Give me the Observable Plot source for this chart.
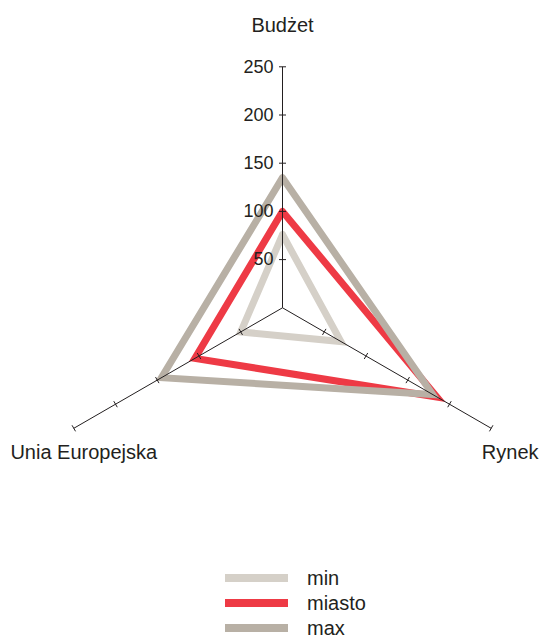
<!DOCTYPE html>
<html>
<head>
<meta charset="utf-8">
<script src="https://cdn.jsdelivr.net/npm/d3@7"></script>
<script src="https://cdn.jsdelivr.net/npm/@observablehq/plot@0.6"></script>
<style>
  body { margin: 0; background: #fff; font-family: "Liberation Sans", Arial, sans-serif; overflow: hidden; }
  #legend { position: relative; }
  .row { display: flex; align-items: center; height: 25.4px; }
  .sw { margin-left: 225px; width: 63px; height: 8px; }
  .lab { margin-left: 19px; font-size: 20px; color: #231f20; line-height: 20px; }
</style>
</head>
<body>
<div id="chart"></div>
<div id="legend"></div>
<script>
const axes = ["Budżet", "Rynek", "Unia Europejska"];
const angles = [90, -30, 210];
const minVals = [76, 70, 50];
const miastoVals = [100, 185, 105];
const maxVals = [135, 180, 145];
const tickValues = [50, 100, 150, 200, 250];
const seriesNames = ["min", "miasto", "max"];
const seriesColors = ["#d5d0c8", "#ee3a45", "#b8b0a5"];

const W = 541, H = 565, cx = 282, cy = 307.3, k = 0.964;
const rad = a => a * Math.PI / 180;
const maxR = 250;

function polygon(vals, name) {
  const pts = vals.map((v, i) => ({series: name, x: v * Math.cos(rad(angles[i])), y: v * Math.sin(rad(angles[i]))}));
  pts.push(pts[0]);
  return pts;
}
const seriesVals = [minVals, miastoVals, maxVals];
const polys = seriesNames.map((n, i) => polygon(seriesVals[i], n));

const axisData = axes.map((a, i) => ({name: a, x2: maxR * Math.cos(rad(angles[i])), y2: maxR * Math.sin(rad(angles[i]))}));
const half = 3.5 / k;
const tickData = [];
axes.forEach((a, i) => {
  const c = Math.cos(rad(angles[i])), s = Math.sin(rad(angles[i]));
  tickValues.forEach(v => {
    tickData.push({x1: v * c - half * s, y1: v * s + half * c, x2: v * c + half * s, y2: v * s - half * c});
  });
});

const lineMarks = polys.map((p, i) => Plot.line(p, {
  x: "x", y: "y", stroke: seriesColors[i], strokeWidth: 7,
  strokeLinejoin: "miter", strokeMiterlimit: 10, curve: "linear"
}));

const labelOffsets = [[0, -41], [19, 24.6], [10, 24.6]];

const chart = Plot.plot({
  width: W, height: H, margin: 0,
  style: {fontFamily: "'Liberation Sans', Arial, sans-serif", background: "#fff"},
  x: {domain: [-cx / k, (W - cx) / k], axis: null},
  y: {domain: [(cy - H) / k, cy / k], axis: null},
  marks: [
    ...lineMarks,
    Plot.link(axisData, {x1: 0, y1: 0, x2: "x2", y2: "y2", stroke: "#231f20", strokeWidth: 1}),
    Plot.link(tickData, {x1: "x1", y1: "y1", x2: "x2", y2: "y2", stroke: "#231f20", strokeWidth: 1}),
    Plot.text(tickValues, {x: 0, y: d => d, text: d => String(d), textAnchor: "end", dx: -9, fontSize: 18, fill: "#231f20"}),
    ...axisData.map((d, i) => Plot.text([d], {x: "x2", y: "y2", text: "name", textAnchor: "middle",
      dx: labelOffsets[i][0], dy: labelOffsets[i][1], fontSize: 20, fill: "#231f20"}))
  ]
});
chart.style.display = "block";
document.getElementById("chart").appendChild(chart);

const legendOrder = [0, 1, 2];
const leg = document.getElementById("legend");
legendOrder.forEach(i => {
  const row = document.createElement("div");
  row.className = "row";
  const sw = document.createElement("div");
  sw.className = "sw";
  sw.style.background = seriesColors[i];
  const lab = document.createElement("div");
  lab.className = "lab";
  lab.textContent = seriesNames[i];
  row.appendChild(sw); row.appendChild(lab);
  leg.appendChild(row);
});
</script>
</body>
</html>
